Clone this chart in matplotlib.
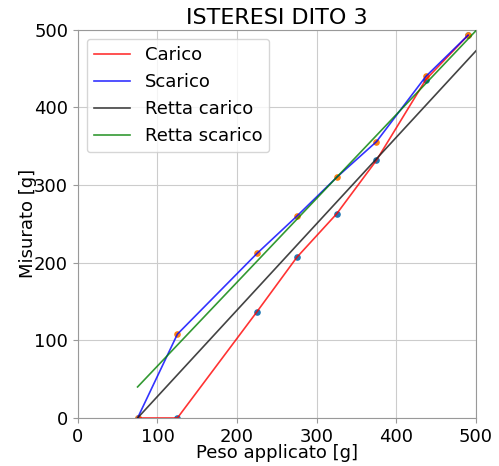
import numpy as np
import matplotlib
matplotlib.use("Agg")
import matplotlib.pyplot as plt

# Pesi applicati [g]
peso = [75, 125, 225, 275, 325, 375, 437, 490]
# Letture in fase di carico e scarico [g]
carico = [0, 0, 137, 207, 263, 332, 436, 493]
scarico = [0, 108, 212, 260, 310, 356, 440, 493]

# Rette di taratura (pendenza, intercetta)
retta_carico = (1.113, -83.5)
retta_scarico = (1.080, -41.0)
x_retta = [75, 500]

fig, ax = plt.subplots(figsize=(4.99, 4.66), dpi=100)
fig.subplots_adjust(left=0.156, right=0.954, top=0.936, bottom=0.103)

ax.scatter(peso, carico, s=14, color="C0", zorder=2)
ax.scatter(peso, scarico, s=14, color="C1", zorder=2)

ax.plot(peso, carico, color="red", lw=1.2, alpha=0.8, label="Carico", zorder=3)
ax.plot(peso, scarico, color="blue", lw=1.2, alpha=0.8, label="Scarico", zorder=3)
xr = np.array(x_retta, dtype=float)
ax.plot(xr, retta_carico[0] * xr + retta_carico[1], color="#222222", lw=1.2,
        alpha=0.85, label="Retta carico", zorder=3)
ax.plot(xr, retta_scarico[0] * xr + retta_scarico[1], color="green", lw=1.2,
        alpha=0.8, label="Retta scarico", zorder=3)

ax.set_xlim(0, 500)
ax.set_ylim(0, 500)
ax.set_xticks([0, 100, 200, 300, 400, 500])
ax.set_yticks([0, 100, 200, 300, 400, 500])
ax.grid(True, color="#cccccc", lw=0.8)
ax.set_axisbelow(True)
for s in ax.spines.values():
    s.set_color("#999999")
ax.tick_params(labelsize=13, color="#999999")

ax.set_title("ISTERESI DITO 3", fontsize=16, pad=4)
ax.set_xlabel("Peso applicato [g]", fontsize=13, labelpad=-1)
ax.set_ylabel("Misurato [g]", fontsize=13, labelpad=-2)
ax.legend(loc="upper left", fontsize=13, handlelength=2.0)

fig.savefig("out.png", dpi=100)
